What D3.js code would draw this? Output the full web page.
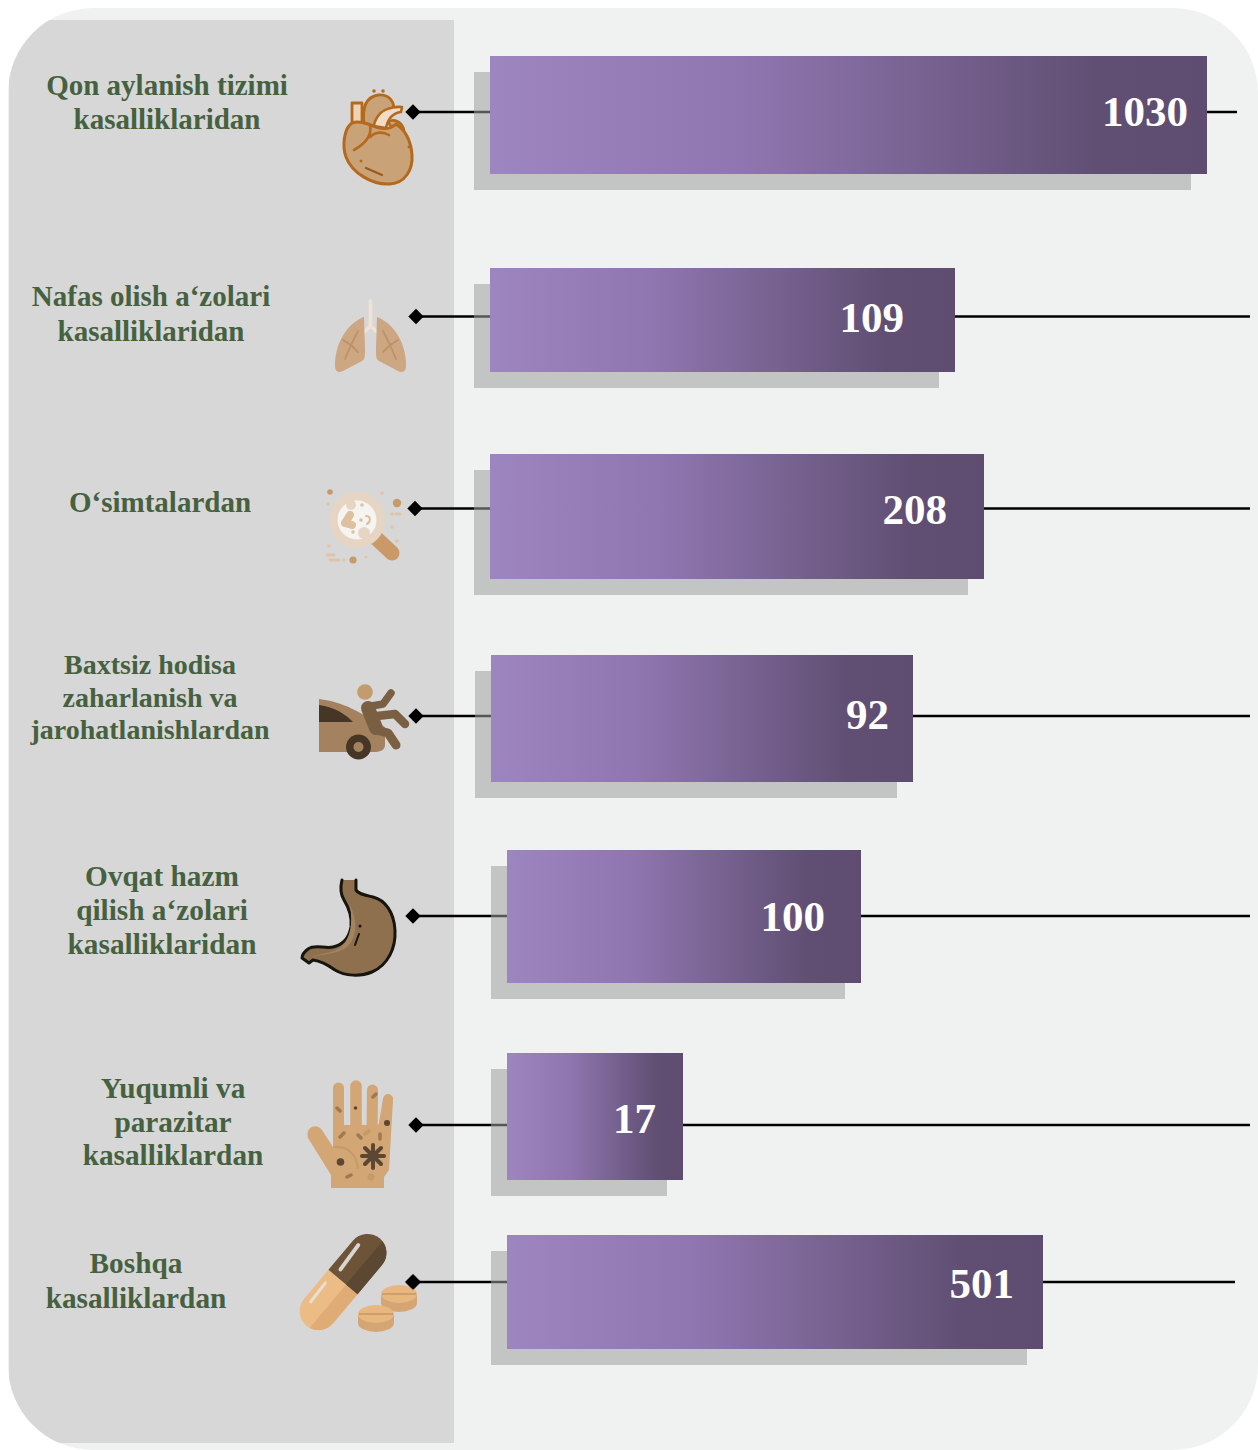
<!DOCTYPE html>
<html lang="en">

<head>
  <meta charset="UTF-8">
  <title>Kasalliklar</title>
  <style>
    * {
      margin: 0;
      padding: 0;
      box-sizing: border-box;
    }

    body {
      background-color: white;
    }

    svg {
      display: block;
    }

    .cat-label {
      font-family: "Liberation Serif", serif;
      font-weight: bold;
      fill: #46613f;
      text-anchor: middle;
    }

    .val-label {
      font-family: "Liberation Serif", serif;
      font-weight: bold;
      font-size: 43px;
      fill: white;
      text-anchor: end;
    }
  </style>
  <script src="https://cdnjs.cloudflare.com/ajax/libs/d3/7.8.5/d3.min.js"></script>
</head>

<body>
  <svg id="chart"></svg>

  <script>
    // Data
    const categories = ['circulatory', 'respiratory', 'plants', 'accident', 'digestive', 'infectious', 'other'];
    const values = [1030, 109, 208, 92, 100, 17, 501];
    const labelLines = [
      ['Qon aylanish tizimi', 'kasalliklaridan'],
      ['Nafas olish a‘zolari', 'kasalliklaridan'],
      ['O‘simtalardan'],
      ['Baxtsiz hodisa', 'zaharlanish va', 'jarohatlanishlardan'],
      ['Ovqat hazm', 'qilish a‘zolari', 'kasalliklaridan'],
      ['Yuqumli va', 'parazitar', 'kasalliklardan'],
      ['Boshqa', 'kasalliklardan']
    ];

    const width = 1258;
    const height = 1450;

    // The bar lengths in the original are not proportional, so the scale is piecewise
    const widthScale = d3.scaleLinear()
      .domain([17, 92, 100, 109, 208, 501, 1030])
      .range([176, 422, 354, 465, 494, 536, 717]);

    // Layout per category, the rows are not evenly spaced either
    const barTop = d3.scaleOrdinal(categories, [56, 268, 454, 655, 850, 1053, 1235]);
    const barHeight = d3.scaleOrdinal(categories, [118, 104, 125, 127, 133, 127, 114]);
    const barLeft = d3.scaleOrdinal(categories, [490, 490, 490, 491, 507, 507, 507]);
    const lineY = d3.scaleOrdinal(categories, [112, 316.5, 508.5, 716, 916, 1125, 1282]);
    const lineEnd = d3.scaleOrdinal(categories, [1237, 1250, 1250, 1250, 1250, 1250, 1235]);
    const markerX = d3.scaleOrdinal(categories, [413, 416, 415, 416, 413, 416, 413]);
    const labelX = d3.scaleOrdinal(categories, [167, 151, 160, 150, 162, 173, 136]);
    const labelY = d3.scaleOrdinal(categories, [95, 306, 512, 674, 886, 1098, 1273]);
    const labelGap = d3.scaleOrdinal(categories, [34, 35, 0, 32.5, 34, 33.5, 35]);
    const labelSize = d3.scaleOrdinal(categories, [29, 29, 29, 28, 29.3, 29.3, 29.3]);
    const valueEnd = d3.scaleOrdinal(categories, [1188, 904, 947, 889, 825, 656, 1014]);
    const valueY = d3.scaleOrdinal(categories, [126, 331.5, 524, 728.5, 931, 1133, 1297.5]);

    const rows = categories.map((c, i) => ({ key: c, value: values[i], lines: labelLines[i] }));

    const svg = d3.select('#chart')
      .attr('width', width)
      .attr('height', height)
      .attr('viewBox', `0 0 ${width} ${height}`);

    const defs = svg.append('defs');

    defs.append('clipPath').attr('id', 'panelClip')
      .append('rect')
      .attr('x', 8).attr('y', 8)
      .attr('width', 1250).attr('height', 1442)
      .attr('rx', 85).attr('ry', 85);

    const soft = defs.append('filter').attr('id', 'soft');
    soft.append('feGaussianBlur').attr('stdDeviation', 0.7);

    const iconBlur = defs.append('filter').attr('id', 'iconBlur');
    iconBlur.append('feGaussianBlur').attr('stdDeviation', 0.4);

    const grad = defs.append('linearGradient').attr('id', 'barGrad');
    [[0, '#9d85bf'], [0.35, '#9076b0'], [0.85, '#604f73'], [1, '#5f4d71']].forEach(s => {
      grad.append('stop').attr('offset', s[0]).attr('stop-color', s[1]);
    });

    // Background panels
    svg.append('rect')
      .attr('x', 8).attr('y', 8)
      .attr('width', 1250).attr('height', 1442)
      .attr('rx', 85).attr('ry', 85)
      .attr('fill', '#f0f2f1')
      .attr('filter', 'url(#soft)');

    svg.append('g').attr('clip-path', 'url(#panelClip)')
      .append('rect')
      .attr('x', 9).attr('y', 20)
      .attr('width', 445).attr('height', 1423)
      .attr('fill', '#d7d7d8');

    // Leader lines go under the shadow so they show through it
    const row = svg.selectAll('g.row')
      .data(rows)
      .enter()
      .append('g')
      .attr('class', 'row');

    row.append('line')
      .attr('x1', d => markerX(d.key))
      .attr('x2', d => lineEnd(d.key))
      .attr('y1', d => lineY(d.key))
      .attr('y2', d => lineY(d.key))
      .attr('stroke', 'black')
      .attr('stroke-width', 2.4);

    row.append('path')
      .attr('d', d3.symbol(d3.symbolSquare, 118))
      .attr('transform', d => `translate(${markerX(d.key)},${lineY(d.key)}) rotate(45)`)
      .attr('fill', 'black');

    row.append('rect')
      .attr('x', d => barLeft(d.key) - 16)
      .attr('y', d => barTop(d.key) + 16)
      .attr('width', d => widthScale(d.value))
      .attr('height', d => barHeight(d.key))
      .attr('fill', 'rgb(157,158,157)')
      .attr('fill-opacity', 0.54);

    row.append('rect')
      .attr('x', d => barLeft(d.key))
      .attr('y', d => barTop(d.key))
      .attr('width', d => widthScale(d.value))
      .attr('height', d => barHeight(d.key))
      .attr('fill', 'url(#barGrad)');

    row.append('text')
      .attr('class', 'val-label')
      .attr('x', d => valueEnd(d.key))
      .attr('y', d => valueY(d.key))
      .text(d => d.value);

    row.each(function (d) {
      const g = d3.select(this);
      d.lines.forEach((line, i) => {
        g.append('text')
          .attr('class', 'cat-label')
          .attr('x', labelX(d.key))
          .attr('y', labelY(d.key) + i * labelGap(d.key))
          .style('font-size', labelSize(d.key) + 'px')
          .text(line);
      });
    });

    // Icons
    const icons = svg.append('g').attr('filter', 'url(#iconBlur)');

    function shape(parent, d, fill, stroke, sw) {
      return parent.append('path')
        .attr('d', d)
        .attr('fill', fill || 'none')
        .attr('stroke', stroke || 'none')
        .attr('stroke-width', sw || 0)
        .attr('stroke-linecap', 'round')
        .attr('stroke-linejoin', 'round');
    }

    function dots(parent, list, fill) {
      list.forEach(p => {
        parent.append('circle').attr('cx', p[0]).attr('cy', p[1]).attr('r', p[2]).attr('fill', fill);
      });
    }

    function drawHeart() {
      const g = icons.append('g');
      const s = '#b4691f';
      shape(g, 'M352,103 L362,103 L362,125 L352,125 Z', '#f0d3b5', s, 2.8);
      shape(g, 'M364,124 C362,108 366,97 378,95 C388,94 393,100 394,108 L375,130 Z', '#c9a377', s, 2.8);
      dots(g, [[374, 91, 1.8], [383, 91, 1.8]], s);
      shape(g, 'M388,122 C394,118 402,122 404,130 L396,134 Z', '#c9a377', s, 2.6);
      shape(g, 'M352,123 C344,128 342,146 346,157 C352,173 372,185 390,184 C405,183 413,170 412,155 C411,141 405,130 396,124 C388,132 378,128 368,124 C362,122 357,121 352,123 Z', '#c9a377', s, 3);
      shape(g, 'M378,116 C382,110 392,106 402,107 L401,112 C393,113 388,118 386,128 L374,126 C374,122 376,119 378,116 Z', '#f3dcc6', s, 2.6);
      shape(g, 'M370,125 C372,134 368,142 354,150 M370,137 C376,131 384,132 389,135', null, s, 2.6);
      shape(g, 'M366,168 L382,175', null, '#9c5a1c', 2.4);
      dots(g, [[361, 161, 1.5], [409, 147, 1.4]], s);
    }

    function drawLungs() {
      const g = icons.append('g');
      const lobe = '#cda682';
      const vein = '#bc9268';
      shape(g, 'M370.5,301 L370.5,326 M370.5,326 L364,332 M370.5,326 L377,332', null, '#f1e3d3', 3.5);
      shape(g, 'M364,317 C350,322 335,340 335,365 C335,372 338,373 343,371 L362,361 C365,359 365,356 365,350 Z', lobe);
      shape(g, 'M377,317 C391,322 406,340 406,365 C406,372 403,373 398,371 L379,361 C376,359 376,356 376,350 Z', lobe);
      shape(g, 'M358,331 L351,345 L345,359 M351,345 L343,340 M351,345 L358,352', null, vein, 1.8);
      shape(g, 'M383,331 L390,345 L396,359 M390,345 L398,340 M390,345 L383,352', null, vein, 1.8);
    }

    function drawMagnifier() {
      const g = icons.append('g');
      shape(g, 'M376,538 L392,553', null, '#c99a68', 15);
      dots(g, [[357, 520, 28]], '#e7d5c3');
      dots(g, [[357, 520, 19.5]], '#f6f4f0');
      dots(g, [[351, 505, 5], [364, 533, 6]], '#e7d5c3');
      shape(g, 'M350,515 L345,523 L352,525', null, '#dcc09f', 8);
      dots(g, [[362, 505, 1.8], [361, 520, 1.8], [353, 532, 1.8]], '#dcc09f');
      shape(g, 'M366,516 C371,516 371,522 367,524', null, '#dcc09f', 2);
      dots(g, [[330, 492, 2.8], [397, 503, 4.2], [353, 560, 3.6]], '#c89a68');
      dots(g, [[328, 504, 1.8], [382, 493, 1.8], [392, 514, 1.8], [392, 527, 1.8], [397, 541, 1.8], [329, 546, 1.8], [344, 560, 1.6], [366, 557, 1.6]], '#e0c4a4');
      shape(g, 'M327,555 L334,555 M330,560 L339,560 M396,514 L400,514', null, '#dfc4a5', 3);
    }

    function drawCar() {
      const g = icons.append('g');
      shape(g, 'M319,699 C345,702 362,714 372,720 L385,727 L385,745 C385,750 380,752 375,752 L319,752 Z', '#a4825e');
      shape(g, 'M319,705 C335,707 345,714 353,722 L319,722 Z', '#463626');
      dots(g, [[358.5, 747, 12.5]], '#463626');
      dots(g, [[358.5, 747, 5]], '#a4825e');
      dots(g, [[365, 692, 7.8]], '#c29b6e');
      shape(g, 'M368,708 L376,728', null, '#7a5f42', 14);
      shape(g, 'M376,730 L388,733 L396,745', null, '#7a5f42', 9);
      shape(g, 'M366,707 L383,704 L391,693', null, '#7a5f42', 7.5);
      shape(g, 'M377,716 L395,714 L405,724', null, '#7a5f42', 8.5);
    }

    function drawStomach() {
      const g = icons.append('g');
      shape(g, 'M342,880 C340,888 341,895 344,900 C349,908 352,918 351,927 C349,938 342,945 333,947 C325,949 315,944 308,949 C304,952 302,955 302,958 L309,963 L313,960 C320,961 328,965 335,970 C345,976 360,977 372,972 C388,965 396,948 395,930 C394,912 385,900 373,897 C365,895 358,894 356,890 L356,880', '#8e6f4f', '#151210', 3);
      shape(g, 'M350,905 C357,920 358,935 348,946 C338,955 323,953 310,958 C322,952 334,954 342,946 C350,938 353,925 350,905 Z', '#a3845f');
      shape(g, 'M359,934 L355,945', null, '#151210', 2);
      dots(g, [[360, 926, 1.5]], '#151210');
    }

    function drawHand() {
      const g = icons.append('g');
      const skin = '#d2a674';
      const dark = '#5c4630';
      const mid = '#a0794f';
      shape(g, 'M331,1188 L331,1175 L308,1138 C305,1128 316,1122 322,1130 L333,1147 L333,1125 L378,1125 L393,1100 L389,1170 L384,1177 L384,1188 Z', skin);
      shape(g, 'M338.5,1088 L338.5,1135', null, skin, 11);
      shape(g, 'M356,1086 L356,1135', null, skin, 11.5);
      shape(g, 'M372.5,1090 L372,1135', null, skin, 11);
      shape(g, 'M388,1099 L382,1135', null, skin, 10);
      shape(g, 'M337,1108 L340,1111 M340,1137 L344,1133 M373,1097 L376,1094 M358,1135 L361,1138 M347,1177 L351,1175 M380,1134 L380,1139', null, mid, 3.5);
      shape(g, 'M365,1134 L369,1131', null, '#c59a68', 3.5);
      dots(g, [[355.5, 1108, 1.8], [387, 1123, 3], [340.5, 1162, 3.8]], dark);
      shape(g, 'M373,1145 L373,1168 M362,1156 L384,1156 M365,1148 L381,1164 M381,1148 L365,1164', null, dark, 4);
      dots(g, [[371, 1177, 3.4]], '#c59a68');
      shape(g, 'M335,1147 C345,1146 356,1152 358,1168', null, '#c79a66', 2.2);
    }

    function drawPills() {
      const g = icons.append('g');
      const cap = g.append('g').attr('transform', 'translate(343,1282) rotate(-50)');
      shape(cap, 'M0,-19 L-38,-19 A19,19 0 0 0 -38,19 L0,19 Z', '#ecbc86');
      shape(cap, 'M0,4 L-56.6,4 A19,19 0 0 0 -38,19 L0,19 Z', '#e0ac76');
      shape(cap, 'M0,-19 L38,-19 A19,19 0 0 1 38,19 L0,19 Z', '#6d5339');
      shape(cap, 'M0,4 L56.6,4 A19,19 0 0 1 38,19 L0,19 Z', '#5c4630');
      shape(cap, 'M8,-10 L38,-12', null, '#d9d5cf', 4);
      shape(cap, 'M-12,-13 L-36,-12', null, '#e6e0d8', 3);
      [[399, 1294], [376, 1314]].forEach(p => {
        g.append('ellipse').attr('cx', p[0]).attr('cy', p[1] + 9).attr('rx', 18).attr('ry', 9).attr('fill', '#d4a673');
        g.append('rect').attr('x', p[0] - 18).attr('y', p[1]).attr('width', 36).attr('height', 9).attr('fill', '#d4a673');
        g.append('ellipse').attr('cx', p[0]).attr('cy', p[1]).attr('rx', 18).attr('ry', 9).attr('fill', '#e8b77f');
        g.append('line').attr('x1', p[0] - 17).attr('x2', p[0] + 17).attr('y1', p[1]).attr('y2', p[1]).attr('stroke', '#cf9f6b').attr('stroke-width', 2);
      });
    }

    drawHeart();
    drawLungs();
    drawMagnifier();
    drawCar();
    drawStomach();
    drawHand();
    drawPills();

    // The last diamond sits over the tablets
    svg.append('path')
      .attr('d', d3.symbol(d3.symbolSquare, 118))
      .attr('transform', `translate(${markerX('other')},${lineY('other')}) rotate(45)`)
      .attr('fill', 'black');
  </script>
</body>

</html>
